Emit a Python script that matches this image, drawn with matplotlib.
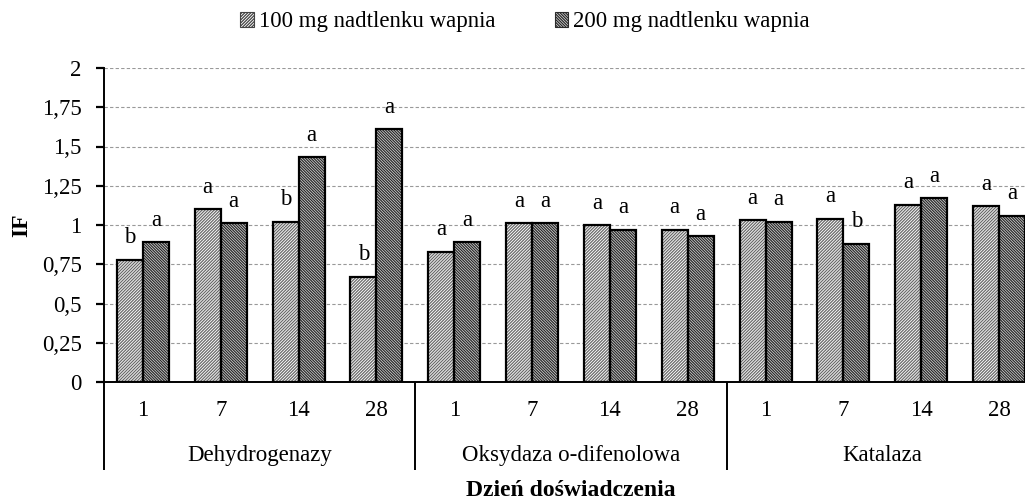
import numpy as np
import matplotlib
matplotlib.use("Agg")
import matplotlib.pyplot as plt
from matplotlib.patches import Patch
from matplotlib.transforms import blended_transform_factory

plt.rcParams["font.family"] = ["Liberation Serif", "DejaVu Serif"]
plt.rcParams["hatch.linewidth"] = 0.9

groups = ["Dehydrogenazy", "Oksydaza o-difenolowa", "Katalaza"]
days = ["1", "7", "14", "28"]
series_names = ["100 mg nadtlenku wapnia", "200 mg nadtlenku wapnia"]

dose100 = [0.78, 1.10, 1.02, 0.67,
           0.83, 1.01, 1.00, 0.97,
           1.03, 1.04, 1.13, 1.12]
dose200 = [0.89, 1.01, 1.43, 1.61,
           0.89, 1.01, 0.97, 0.93,
           1.02, 0.88, 1.17, 1.06]
letters100 = ["b", "a", "b", "b", "a", "a", "a", "a", "a", "a", "a", "a"]
letters200 = ["a", "a", "a", "a", "a", "a", "a", "a", "a", "b", "a", "a"]

HATCH1 = "/" * 11
HATCH2 = "\\" * 12

W, H = 1025, 504
fig = plt.figure(figsize=(W / 100, H / 100), dpi=100)
ax = fig.add_axes([104 / W, (H - 382) / H, 934 / W, 314 / H])

x = np.arange(len(dose100))
bw = 0.335

# hatched fill first, black outline on top
ax.bar(x - bw / 2, dose100, bw, color="white", hatch=HATCH1, edgecolor="#6a6a6a", linewidth=0, zorder=2)
ax.bar(x + bw / 2, dose200, bw, color="#e0e0e0", hatch=HATCH2, edgecolor="#2a2a2a", linewidth=0, zorder=2)
ax.bar(x - bw / 2, dose100, bw, fill=False, edgecolor="black", linewidth=1.6, zorder=3)
ax.bar(x + bw / 2, dose200, bw, fill=False, edgecolor="black", linewidth=1.6, zorder=3)

for xi, v, t in zip(x, dose100, letters100):
    ax.text(xi - bw / 2, v + 0.14, t, ha="center", va="center", fontsize=16.5)
for xi, v, t in zip(x, dose200, letters200):
    ax.text(xi + bw / 2, v + 0.14, t, ha="center", va="center", fontsize=16.5)

ax.set_xlim(-0.5, 11.5)
ax.set_ylim(0, 2)
yt = np.arange(0, 2.01, 0.25)
ax.set_yticks(yt)
ax.set_yticklabels([f"{v:g}".replace(".", ",") for v in yt], fontsize=16.5)
ax.yaxis.grid(True, linestyle=(0, (3, 2)), color="#999999", linewidth=0.8)
ax.set_axisbelow(True)
ax.tick_params(axis="y", length=6, width=1.6, pad=10)

ax.set_xticks(x)
ax.set_xticklabels(days * 3, fontsize=16.5)
ax.tick_params(axis="x", which="major", length=0, pad=13)
ax.set_xticks([-0.5, 3.5, 7.5, 11.5], minor=True)
ax.tick_params(axis="x", which="minor", length=63, width=1.4, color="black")

trans = blended_transform_factory(ax.transData, ax.transAxes)
for i, g in enumerate(groups):
    ax.text(i * 4 + 1.5, -0.235, g, transform=trans, ha="center", va="center", fontsize=16.5)

for s in ["top", "right"]:
    ax.spines[s].set_visible(False)
ax.spines["left"].set_linewidth(1.4)
ax.spines["bottom"].set_linewidth(1.4)

ax.set_ylabel("IF", fontsize=17, fontweight="bold", labelpad=7)
fig.text(571 / W, 1 - 491 / H, "Dzień doświadczenia", ha="center", va="center",
         fontsize=17, fontweight="bold")

handles = [Patch(facecolor="white", hatch=HATCH1, edgecolor="#444444", linewidth=0.8),
           Patch(facecolor="#e0e0e0", hatch=HATCH2, edgecolor="#2a2a2a", linewidth=0.8)]
fig.legend(handles, series_names, loc="center", bbox_to_anchor=(525 / W, 1 - 22 / H),
           ncol=2, frameon=False, fontsize=16.5, handlelength=0.6, handleheight=0.6,
           handletextpad=0.2, columnspacing=2.6)

fig.savefig("out.png", dpi=100)
